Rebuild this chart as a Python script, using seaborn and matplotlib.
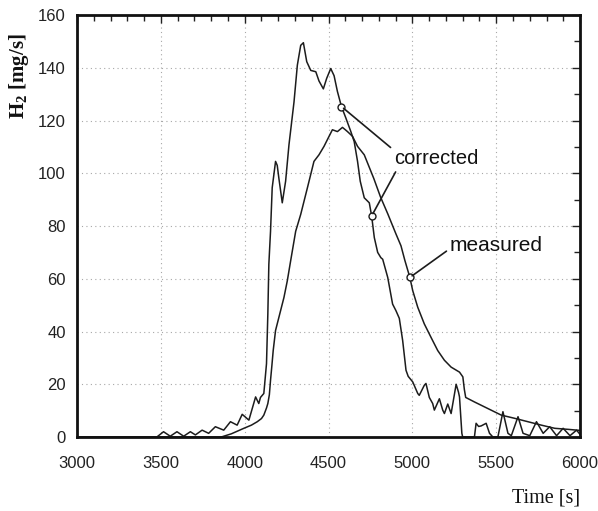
import numpy as np
import pandas as pd
import matplotlib
matplotlib.use("Agg")
import matplotlib.pyplot as plt
from matplotlib.ticker import MultipleLocator
import seaborn as sns

# corrected signal (spiky curve)
corr_t = [3000, 3450, 3476, 3516, 3556, 3596, 3636, 3676, 3706, 3746, 3785, 3825,
          3875, 3915, 3955, 3985, 4025, 4065, 4084, 4094, 4114, 4130, 4138, 4144,
          4154, 4164, 4184, 4194, 4204, 4224, 4244, 4264, 4294, 4314, 4334, 4350,
          4370, 4394, 4424, 4443, 4469, 4489, 4513, 4533, 4553, 4577, 4603, 4633,
          4653, 4673, 4689, 4713, 4743, 4757, 4773, 4793, 4812, 4823, 4853, 4882,
          4902, 4922, 4942, 4962, 4975, 5002, 5032, 5041, 5071, 5081, 5101, 5121,
          5131, 5161, 5181, 5191, 5211, 5231, 5261, 5275, 5281, 5295, 5300, 5370,
          5380, 5395, 5410, 5440, 5460, 5480, 5510, 5540, 5570, 5590, 5630, 5660,
          5700, 5740, 5780, 5819, 5860, 5899, 5940, 5979, 6000]
corr_v = [0, 0, 0, 2, 0.3, 2, 0.3, 2, 0.8, 2.6, 1.4, 3.9,
          2.6, 5.8, 4.5, 8.6, 6.4, 15.2, 12.7, 15, 16.5, 27.8, 46.7, 65.5,
          78, 94.5, 104.5, 103, 98, 88.8, 97, 110.8, 127, 141, 148.5, 149.5,
          142.3, 139, 138.5, 135, 132, 136, 139.7, 137, 131, 125.3, 121, 115.8,
          112, 104.5, 97, 90.7, 88.8, 83.8, 75.6, 70, 68, 67.4, 60.5, 50.4,
          47.9, 45, 36.6, 25.3, 23, 20.9, 16.5, 15.8, 19.6, 20.3, 15, 12.7,
          10.2, 14.5, 10.2, 8.9, 12.5, 8.9, 20, 17, 15.2, 1.4, 0, 0,
          5.2, 4, 4.2, 5.2, 1.4, 0, 0, 9.6, 1.4, 0.5, 7.7, 1.4,
          0.5, 5.8, 1.4, 3.9, 0.5, 3.3, 0.5, 2.6, 1]

# measured signal (smooth curve)
meas_t = [3000, 3850, 3865, 3920, 3995, 4040, 4075, 4100, 4114, 4130, 4138, 4147,
          4154, 4162, 4170, 4184, 4204, 4234, 4254, 4274, 4304, 4334, 4374, 4413,
          4443, 4473, 4503, 4523, 4553, 4583, 4600, 4613, 4643, 4673, 4713, 4770,
          4810, 4854, 4902, 4932, 4955, 4985, 5002, 5032, 5071, 5111, 5151, 5191,
          5231, 5281, 5301, 5310, 5318, 5370, 5450, 5530, 5609, 5689, 5769, 5849,
          5929, 6000]
meas_v = [0, 0, 0.1, 1.2, 3.3, 4.5, 5.8, 7, 8.3, 11, 12.7, 16,
          21.5, 27, 32.8, 40.4, 45.4, 52.9, 59.2, 66.8, 78, 84.4, 94.5, 104.5,
          107, 110.2, 114, 116.5, 115.8, 117.4, 116.5, 115.8, 114, 110.2, 107, 98,
          91, 84.5, 77, 72.5, 67, 60.5, 55.5, 49.2, 42.9, 37.8, 32.8, 29.1,
          26.5, 24.6, 22.8, 18, 15, 13.3, 10.8, 8.3, 7.1, 5.8, 4.5, 3.3,
          2.9, 2.5]

# where the labels point to
corr_marks = [4577, 4757]
meas_marks = [4985]

sns.set_theme(style="white")
plt.rcParams["font.family"] = ["Liberation Sans", "DejaVu Sans"]
plt.rcParams["mathtext.fontset"] = "custom"
plt.rcParams["mathtext.rm"] = "Liberation Serif"
plt.rcParams["mathtext.bf"] = "Liberation Serif:bold"

df_corr = pd.DataFrame({"t": corr_t, "v": corr_v})
df_meas = pd.DataFrame({"t": meas_t, "v": meas_v})

fig = plt.figure(figsize=(5.98, 5.11), dpi=100)
ax = fig.add_axes([0.1288, 0.1448, 0.8412, 0.8258])

line_col = "#1c1c1c"
sns.lineplot(data=df_corr, x="t", y="v", ax=ax, color=line_col, lw=1.1, estimator=None, sort=False)
sns.lineplot(data=df_meas, x="t", y="v", ax=ax, color=line_col, lw=1.1, estimator=None, sort=False)

ax.set_xlim(3000, 6000)
ax.set_ylim(0, 160)
ax.xaxis.set_major_locator(MultipleLocator(500))
ax.xaxis.set_minor_locator(MultipleLocator(100))
ax.yaxis.set_major_locator(MultipleLocator(20))
ax.yaxis.set_minor_locator(MultipleLocator(10))
ax.grid(True, which="major", color="#a8a8a8", linestyle=(0, (1, 3)), linewidth=0.8)
ax.tick_params(which="both", direction="in", top=True, right=True, colors="#222222",
               labelsize=12)
ax.tick_params(which="major", length=6, width=1.0)
ax.tick_params(which="minor", length=4, width=1.0)
ax.tick_params(axis="x", pad=14)
ax.tick_params(axis="y", pad=8)
for s in ax.spines.values():
    s.set_linewidth(2.0)
    s.set_color("#111111")

# y label sits near the top of the axis, x label bottom right
ax.set_ylabel(r"$\mathbf{H}_\mathbf{2}$ [mg/s]", family=["Liberation Serif"], fontsize=15,
              fontweight="bold", color="#111111")
ax.yaxis.set_label_coords(-0.092, 0.855)
ax.set_xlabel("Time [s]", family=["Liberation Serif"], fontsize=14.5, loc="right",
              labelpad=12, color="#111111")

# markers + leader lines
arrow = dict(arrowstyle="-", color=line_col, lw=1.2, shrinkA=0, shrinkB=2)
c1 = np.interp(corr_marks[0], corr_t, corr_v)
c2 = np.interp(corr_marks[1], corr_t, corr_v)
m1 = np.interp(meas_marks[0], meas_t, meas_v)
ax.plot(corr_marks, [c1, c2], "o", ms=5, mfc="white", mec=line_col, mew=1.0)
ax.plot(meas_marks, [m1], "o", ms=5, mfc="white", mec=line_col, mew=1.0)

ax.annotate("corrected", xy=(corr_marks[0], c1), xytext=(5141, 105.5), ha="center",
            va="center", fontsize=14.5, color="#111111",
            arrowprops=dict(arrow, relpos=(0, 0.95)))
ax.annotate("", xy=(corr_marks[1], c2), xytext=(4900, 100.5), arrowprops=arrow)
ax.annotate("measured", xy=(meas_marks[0], m1), xytext=(5500, 72.8), ha="center",
            va="center", fontsize=15, color="#111111",
            arrowprops=dict(arrow, relpos=(0, 0.3)))

plt.savefig("out.png", dpi=100)
